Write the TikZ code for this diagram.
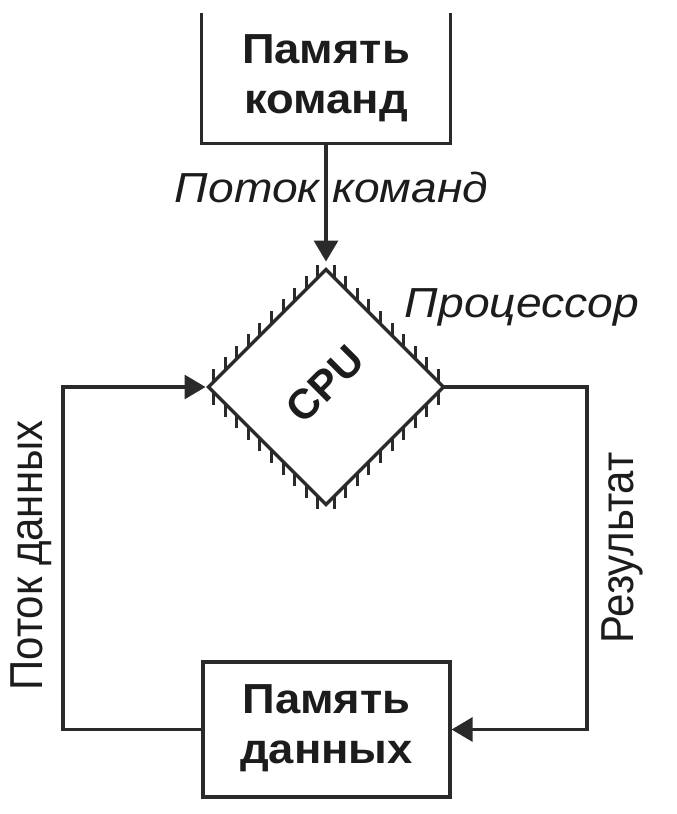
\documentclass[tikz,border=0pt]{standalone}
\usepackage{fontspec}
\setmainfont{Liberation Sans}
\usetikzlibrary{arrows.meta,calc}
\definecolor{ink}{HTML}{2A2A2A}
\definecolor{txt}{HTML}{1C1C1C}
\begin{document}
\begin{tikzpicture}[x=1pt,y=-1pt,
  line/.style={draw=ink,line width=3.2pt},
  arr/.style={line,-{Triangle[length=21pt,width=24pt]}},
  boxtext/.style={font=\fontsize{42}{52}\selectfont\bfseries,text=txt,align=center},
  lbl/.style={font=\fontsize{42}{50}\selectfont,text=txt,xscale=1.1},
  ilbl/.style={font=\fontsize{42}{50}\selectfont\itshape,text=txt,xscale=1.1},
]
\useasboundingbox[fill=white] (0,0) rectangle (677,814);

% boxes
\node[minimum width=248pt, minimum height=130pt, inner sep=0pt] (imem) at (326,78) {};
\node[boxtext, xscale=1.08] (imemtxt) at (imem) {Память\\[-2pt]команд};
\draw[line] (imem.north west) -- (imem.south west) -- (imem.south east) -- (imem.north east);

\node[line, minimum width=247pt, minimum height=135pt, inner sep=0pt] (dmem) at (326.5,729.5) {};
\node[boxtext, xscale=1.08] (dmemtxt) at ($(dmem)+(0,-1)$) {Память\\[-2pt]данных};

% CPU diamond
\coordinate (cpu) at (326,387);
\coordinate (cpuL) at (208.5,387);
\coordinate (cpuR) at (443.5,387);
\coordinate (cpuT) at (326,269.5);
\coordinate (cpuB) at (326,504.5);
\foreach \k in {0,...,9}{
  \pgfmathsetmacro\dd{5+11.6*\k}
  \draw[draw=ink, line width=3pt] ($(cpuL)+(\dd,-\dd)$) -- ++(0,-13);
  \draw[draw=ink, line width=3pt] ($(cpuR)+(-\dd,-\dd)$) -- ++(0,-13);
  \draw[draw=ink, line width=3pt] ($(cpuL)+(\dd,\dd)$) -- ++(0,13);
  \draw[draw=ink, line width=3pt] ($(cpuR)+(-\dd,\dd)$) -- ++(0,13);
}
\draw[line, line join=miter] (cpuL) -- (cpuT) -- (cpuR) -- (cpuB) -- cycle;
\node[rotate=45, font=\fontsize{42}{42}\selectfont\bfseries, text=txt] (cpulbl) at (325,384) {CPU};

% connectors
\draw[arr] (imem.south) -- ($(cpuT)+(0,-8)$);
\coordinate (dcorner) at (63,387);
\draw[arr] (dmem.west) -| (dcorner) -- ($(cpuL)+(-3,0)$);
\coordinate (rcorner) at (587,387);
\draw[arr] (cpuR) -- (rcorner) |- (dmem.east);

% labels
\node[ilbl, anchor=base] (cmdflow) at (331.5,202) {Поток команд};
\node[ilbl, anchor=base] (proc) at (522,317) {Процессор};
\node[lbl, rotate=90, anchor=base] (dflow) at (42,555.5) {Поток данных};
\node[lbl, rotate=90, anchor=base] (res) at (633,548) {Результат};
\end{tikzpicture}
\end{document}
